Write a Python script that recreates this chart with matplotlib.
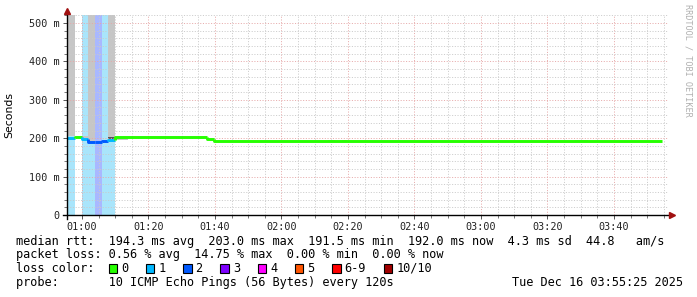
import matplotlib
matplotlib.use('Agg')
import matplotlib.pyplot as plt
from matplotlib.patches import Rectangle
from matplotlib.ticker import MultipleLocator, FuncFormatter

# time in minutes since midnight, rtt in ms
bin_edges = [55.4, 57.9, 59.9, 61.9, 63.9, 65.9, 67.7, 69.9, 97.6, 99.8, 234.3]
median_ms = [201, 203, 197, 190, 190, 193, 195, 203, 197, 192]
loss_pings = [1, 0, 1, 2, 2, 2, 1, 0, 0, 0]
loss_band = [1, 0, 1, 1, 2, 1, 1, 0, 0, 0]

smoke_start = [55.4, 61.9, 67.7, 59.9, 69.9, 134.1, 138.3, 208.3, 67.7]
smoke_end = [57.9, 63.9, 69.9, 61.9, 73.7, 136.2, 139.8, 212.2, 69.9]
smoke_lo = [205, 193, 202, 200, 196, 193, 193, 193, 198]
smoke_hi = [530, 530, 530, 207, 200, 196, 196, 196, 203]
smoke_dark = [False, False, False, False, False, False, False, False, True]

loss_labels = ['0', '1', '2', '3', '4', '5', '6-9', '10/10']
loss_colors = ['#26ff00', '#00b8ff', '#0059ff', '#7e00ff', '#ff00ff', '#ff5500', '#ff0000', '#a10000']
band_colors = {1: '#a9e5fb', 2: '#a9b8ff'}

legend_lines = [
    'median rtt:  194.3 ms avg  203.0 ms max  191.5 ms min  192.0 ms now  4.3 ms sd  44.8   am/s',
    'packet loss: 0.56 % avg  14.75 % max  0.00 % min  0.00 % now',
]
probe_text = 'probe:       10 ICMP Echo Pings (56 Bytes) every 120s'
stamp_text = 'Tue Dec 16 03:55:25 2025'

W, H = 697, 297
fig = plt.figure(figsize=(W / 100, H / 100), dpi=100)
L, R, T, B = 66.5, 668, 15, 215
ax = fig.add_axes([L / W, 1 - B / H, (R - L) / W, (B - T) / H])

px_per_min = 3.325
x0 = 55.35
ax.set_xlim(x0, x0 + (R - L) / px_per_min)
ymax = (B - T) / 0.384
ax.set_ylim(0, ymax)

mono = 'DejaVu Sans Mono'

# loss background bands
for i, lb in enumerate(loss_band):
    if lb:
        ax.axvspan(bin_edges[i], bin_edges[i + 1], color=band_colors[lb], lw=0, zorder=1)

# smoke
for s, e, lo, hi, dk in zip(smoke_start, smoke_end, smoke_lo, smoke_hi, smoke_dark):
    ax.fill_between([s, e], lo, min(hi, ymax), color='#555555' if dk else '#c6c6c6',
                    lw=0, zorder=1.5)

# median line coloured by loss
prev = None
for i, m in enumerate(median_ms):
    c = loss_colors[loss_pings[i]]
    xs = [bin_edges[i], bin_edges[i + 1]]
    ys = [m, m]
    if prev is not None:
        xs = [bin_edges[i]] + xs
        ys = [prev] + ys
    ax.plot(xs, ys, color=c, lw=2.1, solid_capstyle='butt', zorder=3)
    prev = m

# grid
ax.set_axisbelow(False)
ax.xaxis.set_major_locator(MultipleLocator(20))
ax.xaxis.set_minor_locator(MultipleLocator(5))
ax.yaxis.set_major_locator(MultipleLocator(100))
ax.yaxis.set_minor_locator(MultipleLocator(20))
ax.grid(which='minor', color='#cacaca', lw=0.65, ls=(0, (1.2, 1.8)))
ax.grid(which='major', color='#e6a8a8', lw=0.65, ls=(0, (1.2, 1.8)))
ax.xaxis.set_major_formatter(FuncFormatter(lambda v, p: f'{int(v // 60):02d}:{int(round(v % 60)):02d}'))
ax.yaxis.set_major_formatter(FuncFormatter(lambda v, p: '0' if v == 0 else f'{int(round(v))} m'))
ax.tick_params(which='major', length=3, width=0.7, color='#555555', labelsize=7.3,
               labelcolor='#222222', pad=2)
ax.tick_params(which='minor', length=2, width=0.7, color='#777777')
for lab in ax.get_xticklabels() + ax.get_yticklabels():
    lab.set_family(mono)
for sp in ax.spines.values():
    sp.set_visible(False)

# axes lines with arrows
tr = ax.transAxes
ax.plot([-4 / (R - L), 1 + 3 / (R - L)], [0, 0], color='black', lw=1, transform=tr, clip_on=False, zorder=4)
ax.plot([0, 0], [-4 / (B - T), 1 + 2 / (B - T)], color='black', lw=1, transform=tr, clip_on=False, zorder=4)
ax.plot([1 + 4 / (R - L)], [0], marker='>', ms=4, color='#a01010', mec='#a01010', transform=tr, clip_on=False, zorder=5)
ax.plot([0], [1 + 4 / (B - T)], marker='^', ms=4, color='#a01010', mec='#a01010', transform=tr, clip_on=False, zorder=5)

ax.set_ylabel('Seconds', fontsize=7.8)
ax.yaxis.set_label_coords(-52 / (R - L), 0.5)

fig.text(688 / W, 1 - 4 / H, 'RRDTOOL / TOBI OETIKER', rotation=270, family=mono, fontsize=6.1,
         color='#b0b0b0', ha='center', va='top')

# legend
fs = 8.55
cw = 7.16
rows = [241, 254.5, 268, 282.5]
for y, txt in zip(rows[:2], legend_lines):
    fig.text(15.6 / W, 1 - y / H, txt, family=mono, fontsize=fs, va='center', ha='left')
fig.text(15.6 / W, 1 - rows[2] / H, 'loss color:', family=mono, fontsize=fs, va='center', ha='left')
xc = 108.5
for lab, col in zip(loss_labels, loss_colors):
    fig.patches.append(Rectangle((xc / W, 1 - 272.5 / H), 8.6 / W, 8.5 / H, transform=fig.transFigure,
                                 facecolor=col, edgecolor='black', lw=0.8))
    fig.text((xc + 12.5) / W, 1 - rows[2] / H, lab, family=mono, fontsize=fs, va='center', ha='left')
    xc += 12.5 + len(lab) * cw + 17.6
fig.text(15.6 / W, 1 - rows[3] / H, probe_text, family=mono, fontsize=fs, va='center', ha='left')
fig.text(682.5 / W, 1 - rows[3] / H, stamp_text, family=mono, fontsize=fs, va='center', ha='right')

fig.savefig('out.png', dpi=100)
